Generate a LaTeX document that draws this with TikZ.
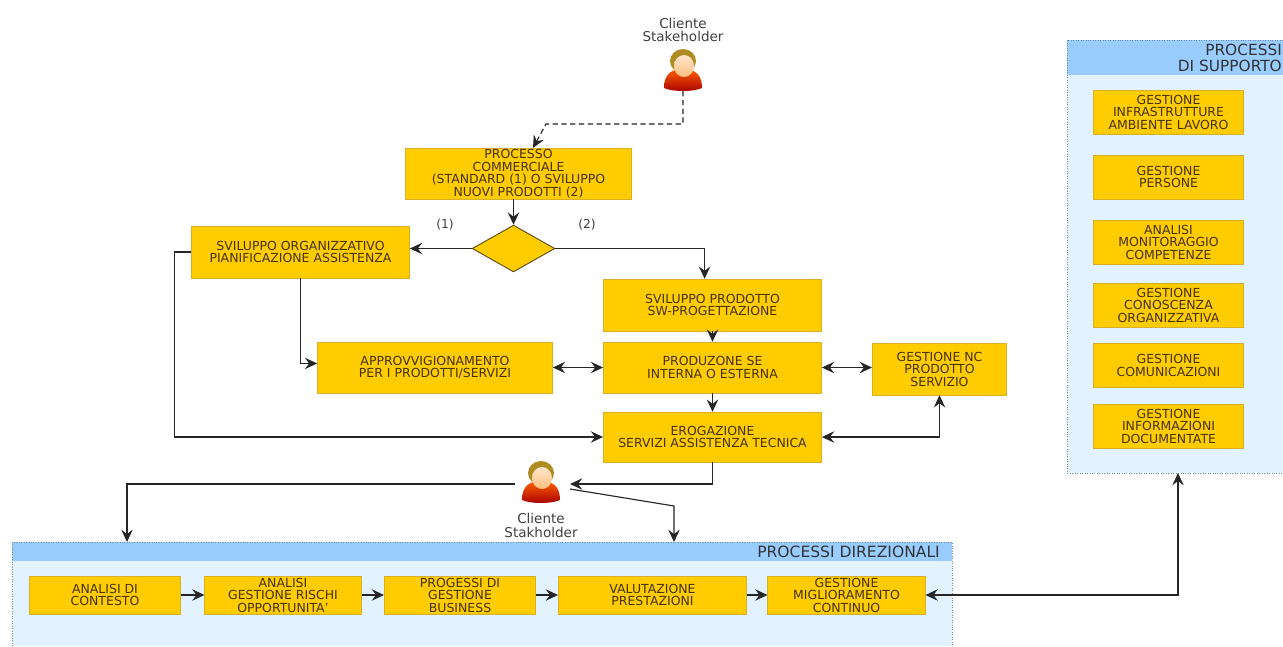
\documentclass[tikz,border=0pt]{standalone}
\usepackage{fontspec}
\setmainfont{DejaVu Sans}
\usetikzlibrary{shapes.geometric,arrows.meta,calc}
\definecolor{boxfill}{RGB}{255,204,0}
\definecolor{boxedge}{RGB}{215,175,40}
\definecolor{headfill}{RGB}{153,204,255}
\definecolor{panelfill}{RGB}{226,243,255}
\definecolor{paneledge}{RGB}{110,140,160}
\definecolor{textcol}{RGB}{70,50,10}
\tikzset{
  procbox/.style 2 args={rectangle,fill=boxfill,draw=boxedge,line width=.4pt,inner sep=0pt,align=center,
    font=\fontsize{7.1}{7.1}\selectfont,text=textcol,minimum width=#1*0.5669pt,minimum height=#2*0.5669pt},
  panel/.style={draw=paneledge,densely dotted,line width=.4pt},
  flow/.style={-{Stealth[length=7pt,width=6.5pt,inset=2.5pt]},line width=.65pt,black!85},
  biflow/.style={{Stealth[length=7pt,width=6.5pt,inset=2.5pt]}-{Stealth[length=7pt,width=6.5pt,inset=2.5pt]},line width=.65pt,black!85},
  lab/.style={font=\fontsize{7.7}{7.5}\selectfont,text=black!75,align=center},
  person/.pic={
    \shade[top color=orange!75!red,bottom color=red!65!black] (-19,20) .. controls (-19,4) and (-9,1) .. (0,1)
      .. controls (9,1) and (19,4) .. (19,20) .. controls (10,24) and (-10,24) .. (-19,20) -- cycle;
    \fill[black!25] (-6,2) -- (6,2) -- (0,8) -- cycle;
    \fill[brown!60!olive!90!yellow] (0,-7) ellipse (13 and 12);
    \shade[top color=orange!20!white,bottom color=orange!50!white] (1,-2) ellipse (10 and 11);
  }
}
\begin{document}
\begin{tikzpicture}[x=0.02cm,y=-0.02cm]
  \useasboundingbox (0,0) rectangle (1283,646);
  % panels
  \fill[white] (0,0) rectangle (1283,646);
  \fill[panelfill] (12,542) rectangle (952,646);
  \fill[headfill] (12,542) rectangle (952,561);
  \draw[panel] (12,646)--(12,542)--(952,542)--(952,646);
  \fill[panelfill] (1067,40) rectangle (1283,473);
  \fill[headfill] (1067,40) rectangle (1283,75);
  \draw[panel] (1283,40)--(1067,40)--(1067,473)--(1283,473);
  \node[anchor=east,font=\fontsize{8.85}{9}\selectfont,text=black!80] (dirtitle) at (946,552) {PROCESSI DIREZIONALI};
  \node[anchor=east,align=right,font=\fontsize{8.75}{9}\selectfont,text=black!80] (suptitle) at (1288,58) {PROCESSI\\DI SUPPORTO\hspace{4pt}};
  % main flow
  \node[procbox={227}{51}] (comm) at (518.5,173.5) {PROCESSO\\COMMERCIALE\\(STANDARD (1) O SVILUPPO\\NUOVI PRODOTTI (2)};
  \node[diamond,aspect=1.75,fill=boxfill,draw=black!60!boxedge,line width=.5pt,inner sep=0pt,minimum width=83*0.5669pt,minimum height=47*0.5669pt] (choice) at (513.5,248.5) {};
  \node[procbox={219}{52}] (org) at (300.5,252) {SVILUPPO ORGANIZZATIVO\\PIANIFICAZIONE ASSISTENZA};
  \node[procbox={219}{52}] (svil) at (712.5,305) {SVILUPPO PRODOTTO\\SW-PROGETTAZIONE};
  \node[procbox={219}{51}] (prod) at (712.5,367.5) {PRODUZONE SE\\INTERNA O ESTERNA};
  \node[procbox={236}{51}] (appr) at (435,367.5) {APPROVVIGIONAMENTO\\PER I PRODOTTI/SERVIZI};
  \node[procbox={135}{52}] (nc) at (939.5,369) {GESTIONE NC\\PRODOTTO\\SERVIZIO};
  \node[procbox={219}{50}] (erog) at (712.5,437) {EROGAZIONE\\SERVIZI ASSISTENZA TECNICA};
  % direzionali
  \node[procbox={152}{38}] (cont) at (105,595) {ANALISI DI\\CONTESTO};
  \node[procbox={157}{38}] (risc) at (283,595) {ANALISI\\GESTIONE RISCHI\\OPPORTUNITA'};
  \node[procbox={152}{38}] (busi) at (460,595) {PROGESSI DI\\GESTIONE\\BUSINESS};
  \node[procbox={189}{38}] (valu) at (652.5,595) {VALUTAZIONE\\PRESTAZIONI};
  \node[procbox={158}{38}] (migl) at (846.5,595) {GESTIONE\\MIGLIORAMENTO\\CONTINUO};
  % supporto
  \foreach \n/\y/\t in {infr/112/{GESTIONE\\INFRASTRUTTURE\\AMBIENTE LAVORO},
      pers/177/{GESTIONE\\PERSONE},
      comp/242/{ANALISI\\MONITORAGGIO\\COMPETENZE},
      cono/305/{GESTIONE\\CONOSCENZA\\ORGANIZZATIVA},
      comu/365.5/{GESTIONE\\COMUNICAZIONI},
      docu/426/{GESTIONE\\INFORMAZIONI\\DOCUMENTATE}}{
    \node[procbox={151}{44}] (\n) at (1168.5,\y) {\t};
  }
  % clienti
  \pic at (683,68) {person};
  \pic at (541,480) {person};
  \coordinate (topcl) at (683,91);
  \coordinate (topbend) at (683,124);
  \coordinate (topknee) at (546,124);
  \coordinate (topend) at (533,148);
  \node[lab] (toplab) at (683,30) {Cliente\\Stakeholder};
  \node[lab] (botlab) at (541,525.5) {Cliente\\Stakholder};
  \coordinate (clw) at (515,484);
  \coordinate (cle) at (570,484);
  \coordinate (cls) at (570,489);
  \coordinate (dirl) at (127,542);
  \coordinate (dirr) at (674,542);
  \coordinate (supb) at (1178,473);
  \draw[flow,densely dashed] (topcl)--(topbend)--(topknee)--(topend);
  \draw[flow] (choice.north|-comm.south)--(choice.north);
  \draw[flow] (choice.west)--(org.east|-choice.west);
  \draw[flow] (choice.east)-|([xshift=-4.5pt]svil.north);
  \node[lab,font=\fontsize{7}{7}\selectfont] (uno) at (445,225) {(1)};
  \node[lab,font=\fontsize{7}{7}\selectfont] (due) at (587,225) {(2)};
  \draw[flow] (org.south)|-([yshift=2.3pt]appr.west);
  \draw[flow] (org.west)--++(-17,0)|-(erog.west);
  \draw[flow] (svil)--(prod);
  \draw[biflow] (appr)--(prod);
  \draw[biflow] (prod.east)--(prod.east-|nc.west);
  \draw[flow] (prod)--(erog);
  \draw[biflow] (erog.east)-|(nc.south);
  \draw[flow] (erog.south)|-(cle);
  \draw[flow] (clw)-|(dirl);
  \draw[flow] (cls)--(674,506)--(dirr);
  \draw[flow] (cont)--(risc);
  \draw[flow] (risc)--(busi);
  \draw[flow] (busi)--(valu);
  \draw[flow] (valu)--(migl);
  \draw[biflow] (migl.east)-|(supb);
\end{tikzpicture}
\end{document}
